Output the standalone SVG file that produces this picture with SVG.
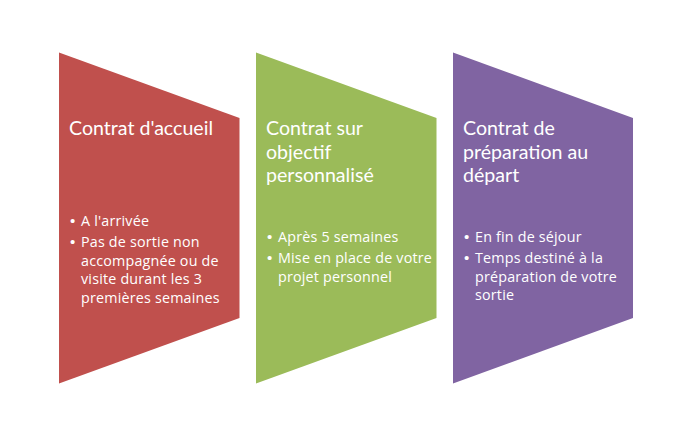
<svg xmlns="http://www.w3.org/2000/svg" width="673" height="436" viewBox="0 0 673 436">
<style>
.title{font-family:"Lato","Liberation Sans",sans-serif;font-size:19.6px;fill:#fff}
.item{font-family:"Open Sans","Liberation Sans",sans-serif;font-size:14.3px;fill:#fff;letter-spacing:0.2px}
.dot{font-family:"Liberation Sans",sans-serif;font-size:15px;fill:#fff}
</style>
<rect width="673" height="436" fill="#fff"/>
<g id="node-accueil">
<polygon points="59,52.5 239.5,118 239.5,318 59,383.5" fill="#C0504D"/>
<text class="title" x="69" y="135">Contrat d'accueil</text>
<text class="dot" x="70" y="226">•</text>
<text class="item" x="81" y="226">A l'arrivée</text>
<text class="dot" x="70" y="247">•</text>
<text class="item" x="81" y="247">Pas de sortie non</text>
<text class="item" x="81" y="265.5">accompagnée ou de</text>
<text class="item" x="81" y="284">visite durant les 3</text>
<text class="item" x="81" y="302.5">premières semaines</text>
</g>
<g id="node-objectif">
<polygon points="256,52.5 436.5,118 436.5,318 256,383.5" fill="#9BBB59"/>
<text class="title" x="266" y="135">Contrat sur</text>
<text class="title" x="266" y="158.5">objectif</text>
<text class="title" x="266" y="182">personnalisé</text>
<text class="dot" x="267" y="242">•</text>
<text class="item" x="278" y="242">Après 5 semaines</text>
<text class="dot" x="267" y="263">•</text>
<text class="item" x="278" y="263">Mise en place de votre</text>
<text class="item" x="278" y="281.5">projet personnel</text>
</g>
<g id="node-depart">
<polygon points="453,52.5 633,118 633,318 453,383.5" fill="#8064A2"/>
<text class="title" x="463" y="135">Contrat de</text>
<text class="title" x="463" y="158.5">préparation au</text>
<text class="title" x="463" y="182">départ</text>
<text class="dot" x="464" y="242">•</text>
<text class="item" x="475" y="242">En fin de séjour</text>
<text class="dot" x="464" y="263">•</text>
<text class="item" x="475" y="263">Temps destiné à la</text>
<text class="item" x="475" y="281.5">préparation de votre</text>
<text class="item" x="475" y="300">sortie</text>
</g>
<g id="connectors"></g>
</svg>
